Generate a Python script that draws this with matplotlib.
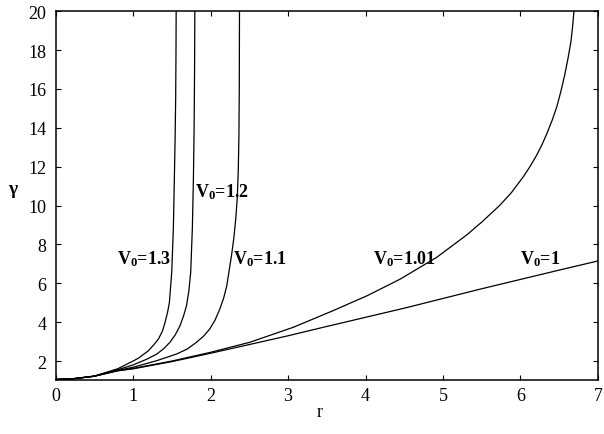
import matplotlib
matplotlib.use("Agg")
import matplotlib.pyplot as plt

plt.rcParams["font.family"] = ["Liberation Serif", "DejaVu Serif"]
plt.rcParams["mathtext.fontset"] = "custom"
plt.rcParams["mathtext.rm"] = "Liberation Serif"
plt.rcParams["mathtext.bf"] = "Liberation Serif:bold"

# curves: (r, gamma) for each V0
r_13 = [0, 0.25, 0.5, 0.8, 1.0, 1.07, 1.198, 1.27, 1.327, 1.38, 1.413, 1.445, 1.469,
        1.499, 1.52, 1.533, 1.543, 1.55, 1.554, 1.557]
g_13 = [1.05, 1.1, 1.23, 1.6, 2.0, 2.15, 2.53, 2.85, 3.13, 3.55, 3.99, 4.5, 5.02,
        6.57, 8.79, 11.37, 13.5, 15.5, 17.8, 20.5]

r_12 = [0, 0.25, 0.5, 0.8, 1.0, 1.18, 1.306, 1.4, 1.477, 1.545, 1.606, 1.65, 1.69,
        1.72, 1.744, 1.765, 1.779, 1.788, 1.794, 1.798]
g_12 = [1.05, 1.1, 1.22, 1.55, 1.8, 2.1, 2.36, 2.65, 2.97, 3.35, 3.82, 4.3, 4.85,
        5.6, 6.57, 8.79, 11.37, 14, 17, 20.5]

r_11 = [0, 0.25, 0.5, 0.8, 1.0, 1.306, 1.56, 1.7, 1.82, 1.91, 1.99, 2.06, 2.12, 2.17,
        2.21, 2.27, 2.3, 2.325, 2.345, 2.358, 2.366, 2.371, 2.374]
g_11 = [1.05, 1.1, 1.22, 1.52, 1.68, 2.02, 2.36, 2.62, 2.97, 3.28, 3.65, 4.12, 4.68, 5.25,
        5.88, 7.42, 8.3, 9.3, 10.4, 11.8, 13.5, 16, 20.5]

r_101 = [0, 0.25, 0.5, 0.8, 1.0, 1.5, 2.0, 2.51, 3.07, 3.58, 4.02, 4.45, 4.92, 5.31,
         5.5, 5.73, 5.88, 6.04, 6.13, 6.21, 6.28, 6.34, 6.41, 6.47, 6.52, 6.57, 6.61,
         6.65, 6.67, 6.69, 6.72]
g_101 = [1.05, 1.1, 1.22, 1.5, 1.62, 2.0, 2.45, 2.97, 3.74, 4.59, 5.36, 6.22, 7.34, 8.5,
         9.15, 10.0, 10.65, 11.5, 12.05, 12.6, 13.15, 13.7, 14.4, 15.1, 15.85, 16.7, 17.5,
         18.4, 19.1, 20.0, 21.5]

r_1 = [0, 0.25, 0.5, 0.8, 1.0, 1.5, 2.0, 2.5, 3.0, 3.5, 4.0, 4.5, 5.0, 5.5, 6.0, 6.5, 7.0]
g_1 = [1.05, 1.1, 1.22, 1.5, 1.6, 1.97, 2.4, 2.85, 3.3, 3.78, 4.25, 4.72, 5.22, 5.72,
       6.2, 6.68, 7.15]

curves = [(r_13, g_13), (r_12, g_12), (r_11, g_11), (r_101, g_101), (r_1, g_1)]

# curve labels: text, left edge r, baseline gamma
labels = [
    (r"$\mathbf{V_0}$=1.3", 0.794, 7.04),
    (r"$\mathbf{V_0}$=1.2", 1.796, 10.5),
    (r"$\mathbf{V_0}$=1.1", 2.294, 7.04),
    (r"$\mathbf{V_0}$=1.01", 4.093, 7.04),
    (r"$\mathbf{V_0}$=1", 5.994, 7.04),
]

fig = plt.figure(figsize=(6.04, 4.35), dpi=100)
ax = fig.add_axes([0.092, 0.123, 0.898, 0.849])

for r, g in curves:
    ax.plot(r, g, color="black", linewidth=0.9)

for text, x, y in labels:
    ax.text(x, y, text, fontsize=13, fontweight="bold", ha="left", va="baseline")

ax.set_xlim(0, 7)
ax.set_ylim(1, 20)
ax.set_xticks(range(0, 8))
ax.set_yticks(range(2, 21, 2))
ax.tick_params(direction="in", top=True, right=True, length=3.5, width=0.8, labelsize=13)
ax.tick_params(axis="x", pad=4.5)
ax.tick_params(axis="y", pad=6.5)
for spine in ax.spines.values():
    spine.set_linewidth(1.1)

fig.text(13 / 604, 1 - 190 / 435, "γ", fontsize=14, fontweight="bold", ha="center", va="center")
fig.text(320 / 604, 1 - 413 / 435, "r", fontsize=13, ha="center", va="center")

fig.savefig("out.png", dpi=100)
